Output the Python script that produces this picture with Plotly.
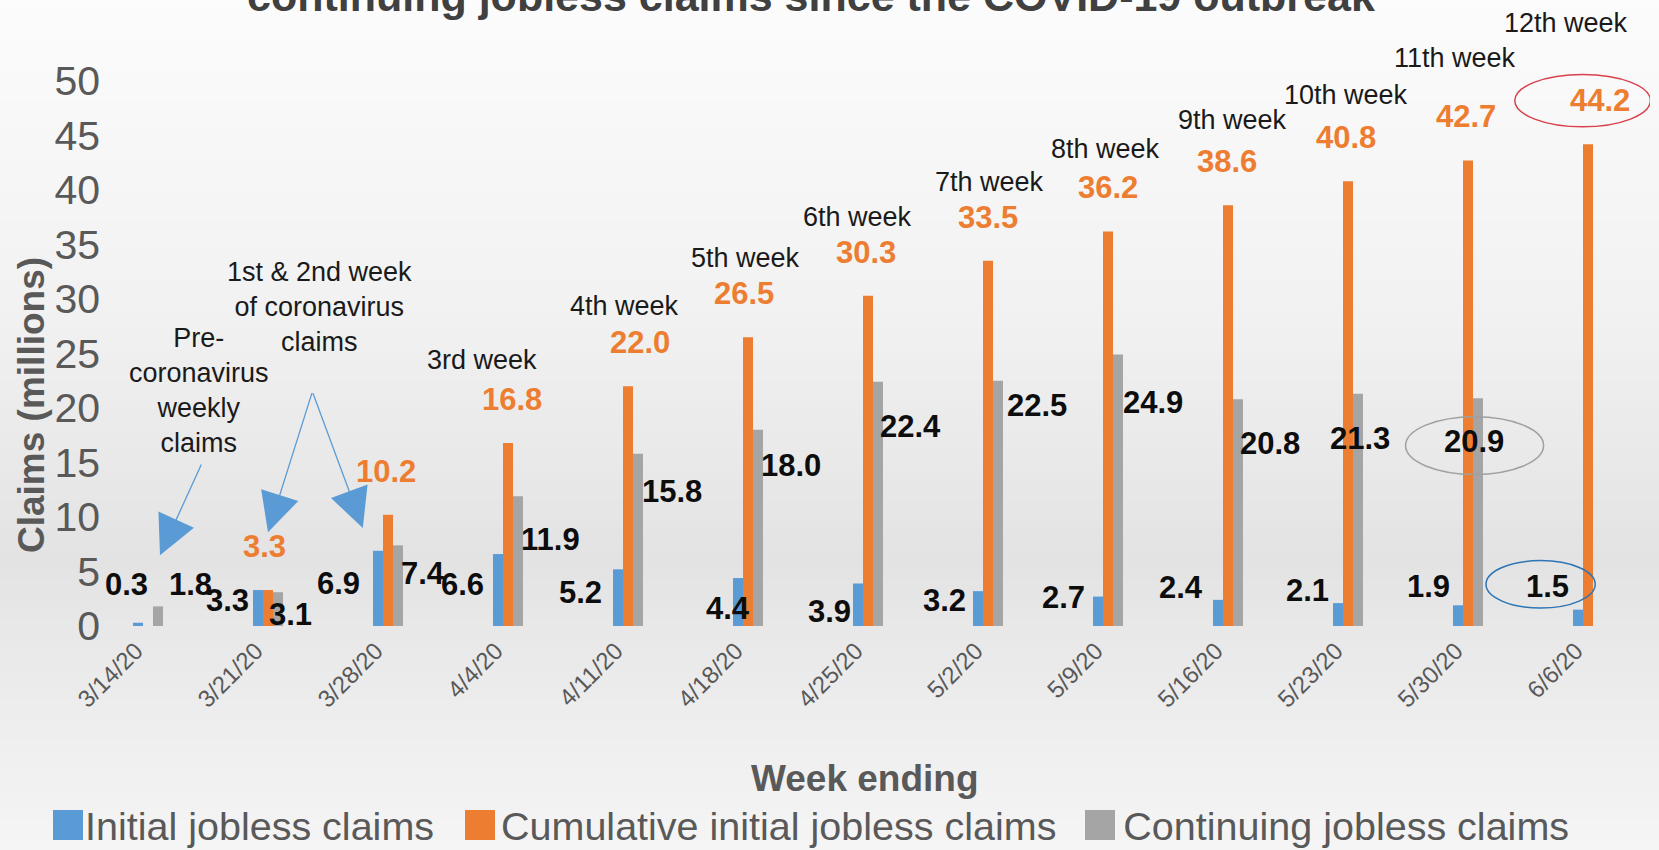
import plotly.graph_objects as go
import numpy as np

# ---------------- data ----------------
weeks = ["3/14/20", "3/21/20", "3/28/20", "4/4/20", "4/11/20", "4/18/20", "4/25/20",
         "5/2/20", "5/9/20", "5/16/20", "5/23/20", "5/30/20", "6/6/20"]
initial = [0.3, 3.3, 6.9, 6.6, 5.2, 4.4, 3.9, 3.2, 2.7, 2.4, 2.1, 1.9, 1.5]
cumulative = [None, 3.3, 10.2, 16.8, 22.0, 26.5, 30.3, 33.5, 36.2, 38.6, 40.8, 42.7, 44.2]
continuing = [1.8, 3.1, 7.4, 11.9, 15.8, 18.0, 22.4, 22.5, 24.9, 20.8, 21.3, 20.9, None]
series_names = ["Initial jobless claims", "Cumulative initial jobless claims",
                "Continuing jobless claims"]
week_names = ["3rd week", "4th week", "5th week", "6th week", "7th week", "8th week",
              "9th week", "10th week", "11th week", "12th week"]
y_ticks = [0, 5, 10, 15, 20, 25, 30, 35, 40, 45, 50]

# ---------------- label placement (layout only) ----------------
init_dx = [-0.18, -0.34, -0.41, -0.38, -0.40, -0.17, -0.32, -0.36, -0.37, -0.39, -0.34, -0.33, -0.34]
init_ly = [3.8, 2.3, 3.9, 3.8, 3.1, 1.65, 1.3, 2.3, 2.57, 3.5, 3.3, 3.6, 3.6]
cont_dx = [0.35, 0.19, 0.29, 0.35, 0.37, 0.36, 0.35, 0.41, 0.375, 0.35, 0.10, 0.05]
cont_ly = [3.8, 1.1, 4.8, 7.9, 12.3, 14.7, 18.3, 20.2, 20.5, 16.7, 17.2, 16.9]
cum_dx = [0, -0.03, -0.02, 0.03, 0.10, -0.03, -0.02, 0.0, 0.0, -0.01, -0.02, -0.02, 0.10]
week_pos = [(2.78, 24.4), (3.97, 29.4), (4.98, 33.8), (5.91, 37.5), (7.01, 40.7),
            (7.98, 43.8), (9.04, 46.4), (9.98, 48.7), (10.89, 52.1), (11.82, 55.3)]

BLUE, ORANGE, GRAY = "#5B9BD5", "#ED7D31", "#A5A5A5"
COLORS = [BLUE, ORANGE, GRAY]
FONT = "Liberation Sans, Arial, sans-serif"
TXT_GRAY = "#595959"
NB = "\u00a0"

fig = go.Figure()
for vals, nm, col in zip([initial, cumulative, continuing], series_names, COLORS):
    fig.add_trace(go.Bar(x=weeks, y=vals, name=nm + NB * 2,
                         marker=dict(color=col, line=dict(width=0))))

# ---------------- geometry ----------------
L, R, T, B = 101, 9, 21, 224
W, H = 1659, 850
ph = H - T - B
pw = W - L - R
X0, STEP = 148, 120   # pixel of first category, px per category
def py2paper(py):
    return (H - B - py) / ph
def px2paper(px):
    return (px - L) / pw

# background gradient
stops_y = [0, 320, 560, 660, 850]
stops_c = [252, 241, 227, 234, 245]
shapes = []
for py in range(0, 850, 10):
    c = int(round(np.interp(py + 5, stops_y, stops_c)))
    shapes.append(dict(type="rect", xref="paper", yref="paper", x0=-0.1, x1=1.1,
                       y0=py2paper(py + 10), y1=py2paper(py), layer="below",
                       fillcolor=f"rgb({c},{c},{c})", line=dict(width=0)))

# ellipses
shapes.append(dict(type="circle", xref="x", yref="y", x0=11.39, x1=12.52, y0=45.8, y1=50.6,
                   line=dict(color="#D9414B", width=1.5)))
shapes.append(dict(type="circle", xref="x", yref="y", x0=10.48, x1=11.63, y0=13.9, y1=19.2,
                   line=dict(color="#A0A0A0", width=1.5)))
shapes.append(dict(type="circle", xref="x", yref="y", x0=11.15, x1=12.06, y0=1.65, y1=6.0,
                   line=dict(color="#2E75B6", width=1.5)))

# enlarged legend swatches (drawn over the legend's own small symbols)
LEG_Y = 825
for cx, col in zip([68, 480, 1100], COLORS):
    shapes.append(dict(type="rect", xref="paper", yref="paper", layer="above",
                       x0=px2paper(cx - 15), x1=px2paper(cx + 15),
                       y0=py2paper(LEG_Y + 15), y1=py2paper(LEG_Y - 15),
                       fillcolor=col, line=dict(width=0)))

ann = []
VAL_SIZE = 31
for i, v in enumerate(initial):
    ann.append(dict(x=i + init_dx[i], y=init_ly[i], xref="x", yref="y", text=f"{v:.1f}",
                    showarrow=False, font=dict(family=FONT, size=VAL_SIZE, color="#0d0d0d", weight="bold")))
for i, v in enumerate(continuing):
    if v is None:
        continue
    ann.append(dict(x=i + cont_dx[i], y=cont_ly[i], xref="x", yref="y", text=f"{v:.1f}",
                    showarrow=False, font=dict(family=FONT, size=VAL_SIZE, color="#0d0d0d", weight="bold")))
for i, v in enumerate(cumulative):
    if v is None:
        continue
    ann.append(dict(x=i + cum_dx[i], y=v + 4.0, xref="x", yref="y", text=f"{v:.1f}",
                    showarrow=False, font=dict(family=FONT, size=VAL_SIZE, color=ORANGE, weight="bold")))
for name, (wx, wy) in zip(week_names, week_pos):
    ann.append(dict(x=wx, y=wy, xref="x", yref="y", text=name, showarrow=False,
                    font=dict(family=FONT, size=27, color="#1a1a1a")))

ann.append(dict(x=0.425, y=21.6, xref="x", yref="y", text="Pre-<br>coronavirus<br>weekly<br>claims",
                showarrow=False, font=dict(family=FONT, size=27, color="#1a1a1a")))
ann.append(dict(x=1.43, y=29.3, xref="x", yref="y", text="1st & 2nd week<br>of coronavirus<br>claims",
                showarrow=False, font=dict(family=FONT, size=27, color="#1a1a1a")))
# arrows
for (tx, ty, hx, hy) in [(0.45, 14.95, 0.10, 6.5), (1.37, 21.5, 1.0, 8.6), (1.37, 21.5, 1.79, 9.0)]:
    ann.append(dict(x=hx, y=hy, ax=tx, ay=ty, xref="x", yref="y", axref="x", ayref="y",
                    text="", showarrow=True, arrowhead=2, arrowsize=6, arrowwidth=1.3,
                    arrowcolor=BLUE, standoff=0, startstandoff=0))

# axis titles and chart title
ann.append(dict(x=px2paper(32), y=py2paper(405), xref="paper", yref="paper",
                xanchor="center", yanchor="middle",
                text="Claims (millions)", textangle=-90, showarrow=False,
                font=dict(family=FONT, size=37, color=TXT_GRAY, weight="bold")))
ann.append(dict(x=px2paper(865), y=py2paper(778), xref="paper", yref="paper",
                xanchor="center", yanchor="middle",
                text="Week ending", showarrow=False,
                font=dict(family=FONT, size=37, color=TXT_GRAY, weight="bold")))
ann.append(dict(x=px2paper(811), y=py2paper(-4), xref="paper", yref="paper",
                xanchor="center", yanchor="middle",
                text="continuing jobless claims since the COVID-19 outbreak", showarrow=False,
                font=dict(family=FONT, size=43, color="#404040", weight="bold")))

fig.update_layout(
    width=W, height=H,
    margin=dict(l=L, r=R, t=T, b=B, autoexpand=False),
    paper_bgcolor="white", plot_bgcolor="rgba(0,0,0,0)",
    barmode="group", bargap=0.75, bargroupgap=0,
    shapes=shapes, annotations=ann,
    font=dict(family=FONT, color=TXT_GRAY),
    legend=dict(orientation="h", x=px2paper(45), y=py2paper(LEG_Y),
                xanchor="left", yanchor="middle", font=dict(family=FONT, size=39.5, color=TXT_GRAY),
                bgcolor="rgba(0,0,0,0)", itemclick=False, itemdoubleclick=False),
    xaxis=dict(type="category", range=[(L - X0) / STEP, (W - R - X0) / STEP],
               showgrid=False, zeroline=False, showline=False, ticks="",
               tickangle=-45, ticklabelshift=-12, ticklabelstandoff=5,
               tickfont=dict(family=FONT, size=24, color=TXT_GRAY)),
    yaxis=dict(range=[0, (H - B - T) / 10.9], tickvals=y_ticks, showgrid=False,
               zeroline=False, showline=False, ticks="",
               tickfont=dict(family=FONT, size=41, color=TXT_GRAY)),
)

fig.write_html("out.html")
